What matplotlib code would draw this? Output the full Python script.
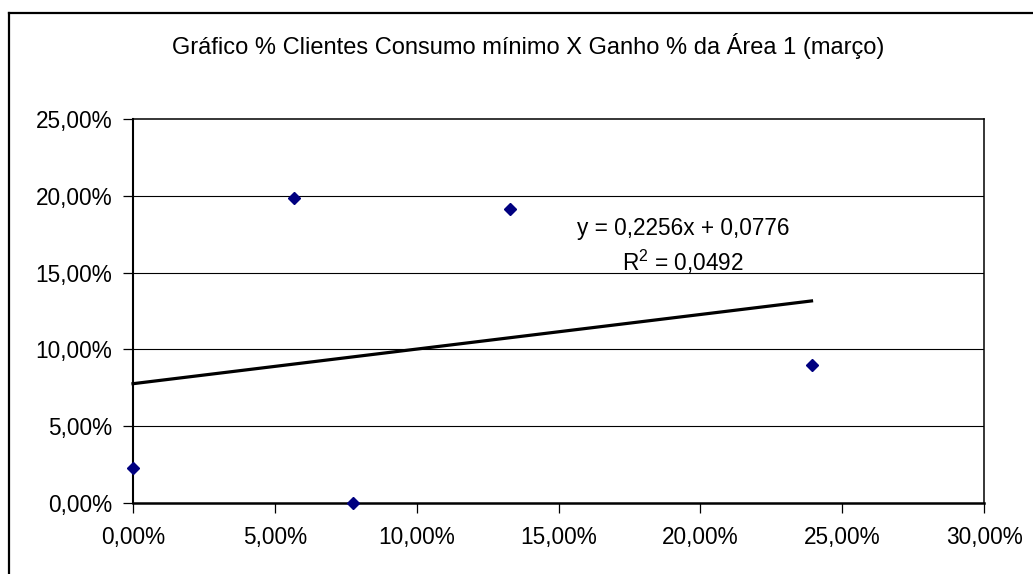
import numpy as np
import matplotlib
matplotlib.use("Agg")
import matplotlib.pyplot as plt
from matplotlib.lines import Line2D

plt.rcParams['font.family'] = ['Liberation Sans', 'DejaVu Sans']

# dados (fracoes)
clientes_consumo_min = [0.0, 0.0568, 0.0774, 0.1330, 0.2392]
ganho_area = [0.0226, 0.1987, 0.0, 0.1913, 0.0896]

# linha de tendencia (Excel)
coef_a = 0.2256
coef_b = 0.0776
r2 = 0.0492

titulo = "Gráfico % Clientes Consumo mínimo X Ganho % da Área 1 (março)"
x_ticks = [0, 0.05, 0.10, 0.15, 0.20, 0.25, 0.30]
y_ticks = [0, 0.05, 0.10, 0.15, 0.20, 0.25]


def pct(v):
    return f"{v*100:.2f}%".replace('.', ',')


fig = plt.figure(figsize=(10.33, 5.74), dpi=100)
ax = fig.add_axes([133/1033, 1 - 502.7/574, (984-133)/1033, (502.7-119.3)/574])

# grade horizontal
for yv in y_ticks[1:-1]:
    ax.axhline(yv, color='black', lw=0.8, zorder=1)

# tendencia
xs = np.array([min(clientes_consumo_min), max(clientes_consumo_min)])
ax.plot(xs, coef_a * xs + coef_b, color='black', lw=2.3, zorder=2, clip_on=False)

# pontos
ax.plot(clientes_consumo_min, ganho_area, linestyle='none', marker='D', ms=6.2,
        color='#000080', mec='#000080', zorder=3, clip_on=False)

ax.set_xlim(0, 0.30)
ax.set_ylim(0, 0.25)
ax.set_xticks(x_ticks)
ax.set_yticks(y_ticks)
ax.set_xticklabels([pct(v) for v in x_ticks])
ax.set_yticklabels([pct(v) for v in y_ticks])
ax.tick_params(direction='out', length=7, width=0.9, labelsize=16.3, colors='black', pad=8)
ax.tick_params(axis='x', pad=10)
for s in ax.spines.values():
    s.set_linewidth(1.1)
ax.spines['bottom'].set_linewidth(1.8)
ax.spines['left'].set_linewidth(1.5)

ax.text(0.1939, 0.1791, "y = 0,2256x + 0,0776", ha='center', va='center', fontsize=16.3)
ax.text(0.1939, 0.1569, "$\\mathregular{R^2}$ = " + f"{r2:.4f}".replace('.', ','),
        ha='center', va='center', fontsize=16.3)

fig.text(528.5/1033, 1 - 46/574, titulo, ha='center', va='center', fontsize=17)

# borda externa (esquerda e topo)
fig.add_artist(Line2D([8.5/1033, 8.5/1033], [0, 1 - 12.5/574], transform=fig.transFigure,
                      color='black', lw=1.6))
fig.add_artist(Line2D([8.5/1033, 1], [1 - 12.5/574, 1 - 12.5/574], transform=fig.transFigure,
                      color='black', lw=1.6))

fig.savefig("out.png", dpi=100)
